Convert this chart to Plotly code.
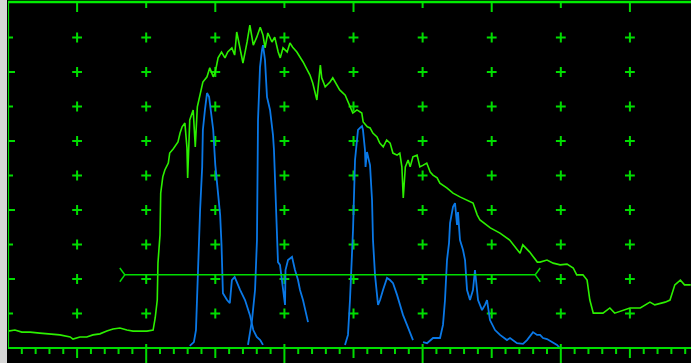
import plotly.graph_objects as go

# Screen units: x = % of full screen width (10 per division), y = % amplitude
X_MAX = 98.84

# Echo envelope (peak memory) trace
env_x = [0, 1.0, 2.0, 3.2, 4.6, 6.1, 7.5, 9.0, 9.4, 10.4, 11.4, 12.3, 13.3, 14.3, 15.2, 16.2,
         17.2, 18.1, 19.1, 20.1, 21.0, 21.3, 21.6, 21.7, 22.0, 22.1, 22.4, 22.7, 23.2, 23.4,
         23.9, 24.3, 24.6, 24.9, 25.2, 25.6, 25.9, 26.0, 26.3, 26.8, 27.1, 27.4, 27.8, 28.2,
         28.8, 29.2, 29.7, 30.0, 30.4, 30.9, 31.4, 31.8, 32.4, 32.8, 33.1, 33.6, 34.0, 34.6,
         35.0, 35.5, 36.0, 36.5, 36.9, 37.2, 37.6, 38.2, 38.6, 39.1, 39.4, 39.8, 40.4, 40.8,
         41.2, 41.8, 42.3, 42.7, 43.3, 43.7, 44.1, 44.7, 45.2, 45.4, 45.9, 46.6, 47.0, 48.0,
         48.8, 49.5, 49.9, 50.5, 51.2, 51.4, 52.0, 52.4, 52.8, 53.4, 53.8, 54.3, 54.8, 55.3,
         55.7, 56.3, 56.7, 57.0, 57.2, 57.5, 57.9, 58.2, 58.6, 59.2, 59.6, 60.1, 60.6, 61.1,
         61.5, 62.1, 62.5, 63.5, 64.4, 65.4, 66.4, 67.3, 67.9, 68.3, 69.8, 71.2, 72.6, 73.4,
         74.1, 74.5, 75.5, 76.6, 77.0, 78.0, 78.9, 79.9, 80.9, 81.8, 82.3, 83.2, 83.8, 84.2,
         84.7, 86.1, 87.1, 87.8, 89.3, 90.0, 91.5, 92.9, 93.6, 95.1, 95.8, 96.5, 97.3, 97.9, 98.8]
env_y = [4.9, 5.2, 4.6, 4.6, 4.3, 4.1, 3.8, 3.2, 2.6, 3.2, 3.2, 3.8, 4.1, 4.9, 5.5, 5.8,
         5.2, 4.9, 4.9, 4.9, 5.2, 8.7, 13.9, 24.6, 32.8, 44.9, 49.6, 51.6, 53.6, 56.5,
         57.7, 58.8, 59.7, 62.3, 64.1, 65.2, 58.0, 49.3, 66.1, 69.0, 58.3, 69.9, 73.3, 77.1,
         78.6, 81.2, 78.6, 80.0, 84.1, 85.8, 84.1, 85.8, 87.0, 84.9, 91.6, 87.0, 82.6, 88.7,
         93.6, 87.8, 90.1, 93.0, 90.7, 87.0, 91.3, 88.7, 90.1, 85.8, 84.1, 87.0, 85.8, 88.4,
         87.2, 85.8, 84.3, 82.9, 80.6, 79.1, 76.8, 71.9, 82.0, 78.3, 75.7, 77.1, 78.3, 74.8,
         73.3, 69.9, 68.1, 69.0, 68.1, 65.5, 64.1, 63.8, 62.3, 61.2, 59.4, 58.3, 60.3, 59.4,
         56.5, 55.9, 56.5, 52.5, 43.5, 52.5, 54.5, 52.5, 55.4, 55.9, 52.5, 53.0, 53.6, 51.0,
         50.1, 49.3, 47.8, 46.4, 44.9, 43.8, 42.9, 42.0, 38.6, 37.1, 34.8, 33.3, 31.3, 29.3,
         27.5, 29.9, 27.8, 24.9, 24.9, 25.5, 24.6, 24.1, 24.3, 23.2, 21.2, 21.2, 19.7, 13.9,
         10.1, 10.1, 11.6, 10.1, 11.0, 11.6, 11.6, 13.3, 12.5, 13.3, 13.9, 18.3, 19.7, 18.3, 18.3]

# Live A-scan echoes (separate segments)
echo1_x = [26.3, 26.9, 27.2, 27.5, 27.8, 28.1, 28.2, 28.5, 28.8, 29.1, 29.2, 29.5, 29.7, 30.0,
           30.4, 30.7, 30.9, 31.0, 31.1, 31.7, 32.1, 32.4, 32.8, 33.6, 34.3, 35.0, 35.5, 36.0,
           36.5, 36.9]
echo1_y = [0.6, 1.7, 5.2, 24.9, 40.0, 52.5, 63.2, 69.0, 73.9, 72.8, 71.0, 66.1, 63.2, 53.0,
           45.8, 38.6, 29.9, 20.9, 15.9, 13.9, 13.0, 19.7, 20.6, 16.8, 13.9, 9.6, 5.2, 3.2,
           2.3, 0.9]
echo2_x = [34.73, 35.0, 35.31, 35.75, 36.03, 36.18, 36.47, 36.76, 36.9, 37.19, 37.34, 37.48,
           37.92, 38.21, 38.35, 38.49, 38.78, 38.93, 39.07, 39.36, 39.8, 40.09, 40.16, 40.52,
           41.1, 41.53, 41.97, 42.26, 42.69, 43.27, 43.42]
echo2_y = [0.9, 3.8, 8.1, 16.8, 31.3, 66.1, 81.4, 86.4, 87.8, 83.5, 78.6, 72.8, 69.0, 64.6,
           61.7, 57.4, 42.9, 31.3, 24.9, 24.1, 16.8, 12.5, 22.6, 25.5, 26.4, 22.6, 19.7, 16.8,
           13.9, 8.7, 7.5]
echo3_x = [48.77, 49.2, 49.49, 49.78, 49.93, 50.22, 50.51, 50.65, 50.94, 51.23, 51.37, 51.66,
           51.74, 51.95, 52.39, 52.68, 52.82, 53.11, 53.55, 53.84, 54.27, 54.85, 55.28, 55.72,
           56.3, 56.73, 57.16, 57.74, 58.18, 58.61]
echo3_y = [0.9, 3.8, 13.9, 25.5, 34.2, 54.5, 59.4, 63.2, 63.8, 64.3, 63.2, 57.4, 52.5, 56.8,
           53.0, 42.9, 31.3, 21.2, 12.5, 13.9, 16.8, 20.3, 19.7, 18.8, 15.4, 12.5, 9.6, 6.7,
           4.3, 2.3]
echo4_x = [60.06, 60.64, 61.51, 62.52, 62.95, 63.24, 63.53, 63.82, 63.97, 64.4, 64.69, 64.98,
           65.12, 65.41, 65.85, 66.14, 66.43, 66.86, 67.29, 67.58, 68.02, 68.6, 69.03, 69.32,
           69.75, 70.48, 71.2, 71.64, 72.21, 72.65, 73.66, 74.53, 75.11, 75.98, 76.56, 77.0,
           77.42, 78.0, 78.87, 79.45, 79.88]
echo4_y = [1.7, 1.4, 2.9, 2.9, 6.7, 13.9, 25.5, 30.4, 36.2, 40.9, 42.0, 35.7, 39.4, 31.3,
           28.4, 25.5, 16.8, 13.9, 16.8, 22.6, 13.9, 11.0, 12.5, 13.9, 8.1, 5.2, 3.8, 3.2, 2.3,
           2.9, 1.4, 1.2, 2.3, 4.6, 3.8, 3.8, 2.9, 2.6, 1.7, 0.9, 0.0]

# Gate A
gate_start = 16.9
gate_end = 76.3
gate_level = 21.2

GRID = "#00dd00"
ENV = "#2cf000"
ECHO = "#0a78e6"

fig = go.Figure()

# graticule crosses
gx, gy = [], []
for i in range(1, 10):
    for j in range(1, 10):
        gx.append(i * 10)
        gy.append(j * 10)
fig.add_trace(go.Scatter(x=gx, y=gy, mode="markers",
                         marker=dict(symbol="cross-thin", size=7,
                                     line=dict(color=GRID, width=2)),
                         hoverinfo="skip"))

fig.add_trace(go.Scatter(x=env_x, y=env_y, mode="lines",
                         line=dict(color=ENV, width=1.6), hoverinfo="skip"))

ex, ey = [], []
for sx, sy in [(echo1_x, echo1_y), (echo2_x, echo2_y), (echo3_x, echo3_y), (echo4_x, echo4_y)]:
    ex += sx + [None]
    ey += sy + [None]
fig.add_trace(go.Scatter(x=ex, y=ey, mode="lines", connectgaps=False,
                         line=dict(color=ECHO, width=1.8), hoverinfo="skip"))

# gate bar with chevron ends
aw, ah = 0.72, 2.0
gxs = [gate_start - aw, gate_start, gate_start - aw, None,
       gate_start, gate_end, None,
       gate_end + aw, gate_end, gate_end + aw]
gys = [gate_level + ah, gate_level, gate_level - ah, None,
       gate_level, gate_level, None,
       gate_level + ah, gate_level, gate_level - ah]
fig.add_trace(go.Scatter(x=gxs, y=gys, mode="lines",
                         line=dict(color=GRID, width=1.5), hoverinfo="skip"))

shapes = []
# grey strip at left edge
shapes.append(dict(type="rect", xref="paper", yref="paper",
                   x0=-8 / 683, x1=-1 / 683, y0=-0.06, y1=1.02,
                   fillcolor="#d6d6d6", line=dict(width=0), layer="above"))
# frame: top, left, baseline
shapes.append(dict(type="line", xref="paper", yref="paper", ysizemode="pixel", yanchor=1,
                   x0=0, x1=1.01, y0=1, y1=1, line=dict(color="#00ee00", width=2.5)))
shapes.append(dict(type="line", xref="x", yref="paper", x0=0, x1=0, y0=0, y1=1.0,
                   line=dict(color=GRID, width=2.2)))
shapes.append(dict(type="line", xref="paper", yref="paper", x0=0, x1=1.01, y0=0, y1=0,
                   line=dict(color=GRID, width=2)))

# bottom scale ticks
for k in range(1, 50):
    xv = k * 2
    if xv % 10 == 0:
        if (xv // 10) % 2 == 1:
            p0, p1 = 1, -10
        else:
            p0, p1 = 4, -15
    else:
        p0, p1 = 0, -6
    shapes.append(dict(type="line", xref="x", yref="paper", ysizemode="pixel", yanchor=0,
                       x0=xv, x1=xv, y0=p0, y1=p1, line=dict(color=GRID, width=2)))

# top scale ticks
for i in range(1, 10):
    length = -9 if i % 2 == 1 else -5
    shapes.append(dict(type="line", xref="x", yref="paper", ysizemode="pixel", yanchor=1,
                       x0=i * 10, x1=i * 10, y0=0, y1=length, line=dict(color=GRID, width=2)))

# left scale ticks
for j in range(1, 10):
    length = 7 if j % 2 == 0 else 5
    shapes.append(dict(type="line", xref="paper", yref="y", xsizemode="pixel", xanchor=0,
                       x0=0, x1=length, y0=j * 10, y1=j * 10, line=dict(color=GRID, width=2)))

fig.update_layout(
    width=691, height=363,
    margin=dict(l=8, r=0, t=3, b=15, pad=0),
    paper_bgcolor="black", plot_bgcolor="black",
    showlegend=False,
    xaxis=dict(range=[0, X_MAX], visible=False, fixedrange=True),
    yaxis=dict(range=[0, 100], visible=False, fixedrange=True),
    shapes=shapes,
    hovermode=False,
)

fig.write_html("out.html", config={"displayModeBar": False})
